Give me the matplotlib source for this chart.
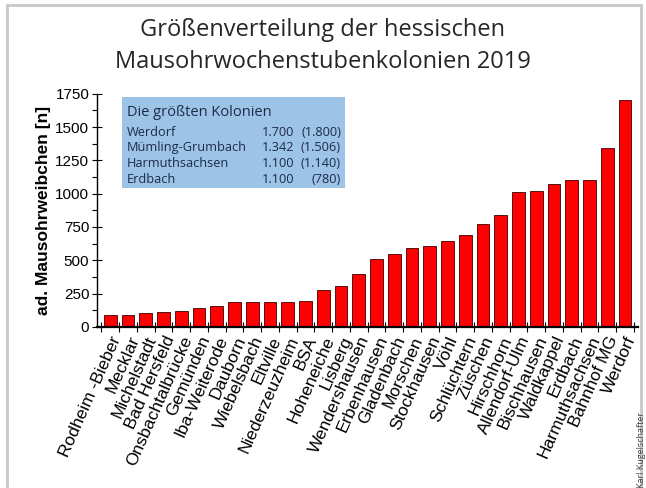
import matplotlib
matplotlib.use("Agg")
import matplotlib.pyplot as plt
from matplotlib.patches import Rectangle
from matplotlib.ticker import MultipleLocator, FixedLocator, NullFormatter, FixedFormatter
import numpy as np

plt.rcParams["font.family"] = ["Liberation Sans", "DejaVu Sans"]

# ---------------------------------------------------------------- data
colonies = [
    "Rodheim -Bieber", "Mecklar", "Michelstadt", "Bad Hersfeld", "Onsbachtalbrücke",
    "Gemünden", "Iba-Weiterode", "Dauborn", "Wiebelsbach", "Eltville",
    "Niederzeuzheim", "BSA", "Hoheneiche", "Lisberg", "Wendershausen",
    "Erbenhausen", "Gladenbach", "Morschen", "Stockhausen", "Vöhl",
    "Schlüchtern", "Züschen", "Hirschhorn", "Allendorf-Ulm", "Bischhausen",
    "Waldkappel", "Erdbach", "Harmuthsachsen", "Bahnhof MG", "Werdorf",
]
females = [
    90, 90, 105, 110, 120,
    140, 160, 185, 185, 190,
    190, 195, 275, 310, 400,
    510, 550, 590, 605, 645,
    690, 770, 840, 1010, 1020,
    1075, 1100, 1100, 1342, 1700,
]

box_names = ["Werdorf", "Mümling-Grumbach", "Harmuthsachsen", "Erdbach"]
box_2019 = ["1.700", "1.342", "1.100", "1.100"]
box_prev = ["(1.800)", "(1.506)", "(1.140)", "(780)"]

W, H = 646, 488

# ---------------------------------------------------------------- figure
fig = plt.figure(figsize=(W / 100, H / 100), dpi=100)
fig.patches.append(Rectangle((7 / W, -0.02), 634 / W, 1.02 - 5 / H,
                             transform=fig.transFigure, fill=False,
                             edgecolor="#c8c8c8", linewidth=2.0))

ax = fig.add_axes([0.150, 0.330, 0.838, 0.478])
x = np.arange(len(colonies))
ax.bar(x, females, width=0.72, color="#ff0000", edgecolor="#3a0000", linewidth=0.6)

ax.set_xlim(-0.75, 29.75)
ax.set_ylim(0, 1750)
ax.spines["top"].set_visible(False)
ax.spines["right"].set_visible(False)
ax.spines["left"].set_linewidth(1.0)
ax.spines["bottom"].set_linewidth(1.6)

ax.yaxis.set_major_locator(MultipleLocator(250))
ax.yaxis.set_minor_locator(MultipleLocator(125))
ax.tick_params(axis="y", which="major", direction="inout", length=7, width=0.8,
               labelsize=11, pad=2)
ax.tick_params(axis="y", which="minor", direction="out", length=3.5, width=0.8)

# tick marks sit between bars, labels sit under the bars
ax.xaxis.set_major_locator(FixedLocator(np.arange(-0.5, len(colonies), 1.0)))
ax.xaxis.set_major_formatter(NullFormatter())
ax.xaxis.set_minor_locator(FixedLocator(x))
ax.xaxis.set_minor_formatter(FixedFormatter(colonies))
ax.tick_params(axis="x", which="major", direction="inout", length=7, width=0.8)
ax.tick_params(axis="x", which="minor", length=0, pad=5)
for lab in ax.get_xticklabels(minor=True):
    lab.set_rotation(66)
    lab.set_ha("right")
    lab.set_va("top")
    lab.set_rotation_mode("anchor")
    lab.set_fontsize(12.5)

ax.set_ylabel("ad. Mausohrweibchen [n]", fontsize=12.5, fontweight="bold",
              labelpad=3)

fig.text(0.5, 1 - 30 / H, "Größenverteilung der hessischen", ha="center", va="center",
         fontsize=17, family="Open Sans", color="#262626")
fig.text(0.5, 1 - 62 / H, "Mausohrwochenstubenkolonien 2019", ha="center", va="center",
         fontsize=17, family="Open Sans", color="#262626")

# ---------------------------------------------------------------- info box
bx0, by0 = 122 / W, 1 - 188 / H
fig.patches.append(Rectangle((bx0, by0), 223 / W, 91 / H, transform=fig.transFigure,
                             facecolor="#9dc3e6", edgecolor="none", zorder=3))
txt_col = "#1c2c4a"
fig.text(127 / W, 1 - 113 / H, "Die größten Kolonien", ha="left", va="center",
         fontsize=10.5, family="Open Sans", color=txt_col, zorder=4)
for i, (n, a, b) in enumerate(zip(box_names, box_2019, box_prev)):
    yy = 1 - (132 + i * 15.7) / H
    fig.text(127 / W, yy, n, ha="left", va="center", fontsize=9.2,
             family="Open Sans", color=txt_col, zorder=4)
    fig.text(294 / W, yy, a, ha="right", va="center", fontsize=9.2,
             family="Open Sans", color=txt_col, zorder=4)
    fig.text(341 / W, yy, b, ha="right", va="center", fontsize=9.2,
             family="Open Sans", color=txt_col, zorder=4)

fig.text(642 / W, 0.0, "Karl Kugelschafter", rotation=90, ha="center", va="bottom",
         fontsize=6.5, family="Open Sans", color="#404040")

fig.savefig("out.png", dpi=100)
